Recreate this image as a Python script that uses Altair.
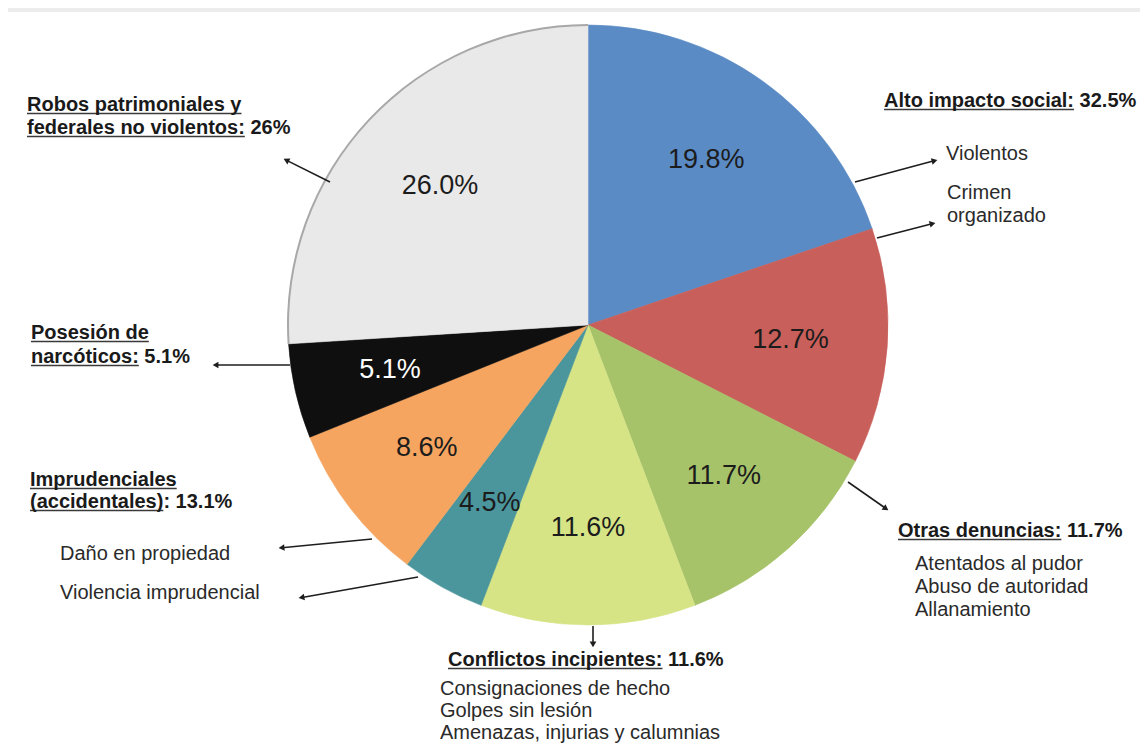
import math
import altair as alt
import pandas as pd

# ---------------- data ----------------
categories = [
    "Violentos",
    "Crimen organizado",
    "Otras denuncias",
    "Conflictos incipientes",
    "Violencia imprudencial",
    "Daño en propiedad",
    "Posesión de narcóticos",
    "Robos patrimoniales y federales no violentos",
]
shares = [19.8, 12.7, 11.7, 11.6, 4.5, 8.6, 5.1, 26.0]

bold_lines = [
    "Robos patrimoniales y",
    "federales no violentos: 26%",
    "Alto impacto social: 32.5%",
    "Posesión de",
    "narcóticos: 5.1%",
    "Imprudenciales",
    "(accidentales): 13.1%",
    "Otras denuncias: 11.7%",
    "Conflictos incipientes: 11.6%",
]
underlined_parts = [
    "Robos patrimoniales y",
    "federales no violentos:",
    "Alto impacto social:",
    "Posesión de",
    "narcóticos:",
    "Imprudenciales",
    "(accidentales)",
    "Otras denuncias:",
    "Conflictos incipientes:",
]
plain_lines = [
    "Violentos",
    "Crimen",
    "organizado",
    "Daño en propiedad",
    "Violencia imprudencial",
    "Atentados al pudor",
    "Abuso de autoridad",
    "Allanamiento",
    "Consignaciones de hecho",
    "Golpes sin lesión",
    "Amenazas, injurias y calumnias",
]

# ---------------- layout / styles ----------------
palette = ["#5b8bc5", "#c95f5a", "#a6c36a", "#d6e486", "#4b969c", "#f5a55f", "#0f0f0f", "#e9e9e9"]
label_ink = ["#1c1c1c", "#1c1c1c", "#1c1c1c", "#1c1c1c", "#1c1c1c", "#1c1c1c", "#ffffff", "#1c1c1c"]
ring_ink = ["transparent"] * 7 + ["#a8a8a8"]

CX, CY, R = 588, 325, 300          # pie centre / radius in page pixels
OX, OY = 8, 8                       # page margin
W, H = 1132, 735

bold_pos = [(27, 111), (27, 134), (884, 107), (31, 339), (31, 363),
            (30, 486), (30, 508), (898, 537), (448, 666)]
plain_pos = [(946, 160), (947, 199), (947, 222), (60, 560), (60, 599),
             (915, 570), (915, 593), (915, 616), (440, 695), (440, 717), (440, 739)]
arrows = [  # tail x, tail y, head x, head y
    (330, 182, 284, 159),
    (855, 182, 937, 160),
    (877, 238, 935, 223),
    (290, 365, 213, 365),
    (848, 482, 888, 510),
    (593, 626, 593, 647),
    (372, 539, 279, 548),
    (418, 577, 299, 598),
]
BOLD_SIZE = 20
PLAIN_SIZE = 20
FONT = "Liberation Sans"

BOLD_W = {' ': 278, '(': 333, ')': 333, ':': 333, '.': 278, '%': 889,
          'a': 556, 'b': 611, 'c': 556, 'd': 611, 'e': 556, 'f': 333, 'g': 611,
          'h': 611, 'i': 278, 'l': 278, 'm': 889, 'n': 611, 'o': 611, 'p': 611,
          'r': 389, 's': 556, 't': 333, 'u': 611, 'v': 556, 'y': 556, 'z': 500,
          'ó': 611, 'A': 722, 'C': 722, 'I': 278, 'O': 778, 'P': 667, 'R': 722}


def bold_width(s, size):
    return sum(BOLD_W.get(ch, 556) for ch in s) * size / 1000.0


# ---------------- tables ----------------
pie_df = pd.DataFrame({
    "cat": categories,
    "value": shares,
    "idx": list(range(len(categories))),
    "label": [f"{v:.1f}%" for v in shares],
    "ink": label_ink,
    "ring": ring_ink,
})

bold_df = pd.DataFrame({"t": bold_lines,
                        "x": [p[0] for p in bold_pos],
                        "y": [p[1] for p in bold_pos]})
plain_df = pd.DataFrame({"t": plain_lines,
                         "x": [p[0] for p in plain_pos],
                         "y": [p[1] for p in plain_pos]})
ul_df = pd.DataFrame({
    "x": [p[0] for p in bold_pos],
    "x1": [p[0] + bold_width(s, BOLD_SIZE) for s, p in zip(underlined_parts, bold_pos)],
    "y": [p[1] + 2.5 for p in bold_pos],
})

arr_rows, head_rows = [], []
for (x0, y0, x1, y1) in arrows:
    dx, dy = x1 - x0, y1 - y0
    L = math.hypot(dx, dy)
    ux, uy = dx / L, dy / L
    arr_rows.append({"x": x0, "y": y0, "x1": x1 - ux * 3, "y1": y1 - uy * 3})
    ang = math.degrees(math.atan2(dx, -dy)) % 360
    head_rows.append({"x": x1 - ux * 3.5, "y": y1 - uy * 3.5, "ang": ang})
arr_df = pd.DataFrame(arr_rows)
head_df = pd.DataFrame(head_rows)

panel_df = pd.DataFrame({"x": [6], "x1": [1148], "y": [12], "y1": [751]})

# ---------------- encodings ----------------
xs = alt.Scale(domain=[OX, OX + W], nice=False, zero=False)
ys = alt.Scale(domain=[OY, OY + H], nice=False, zero=False, reverse=True)


def X(f):
    return alt.X(f, type="quantitative", scale=xs, axis=None)


def Y(f):
    return alt.Y(f, type="quantitative", scale=ys, axis=None)


panel = alt.Chart(panel_df).mark_rect(color="white").encode(
    x=X("x"), x2="x1", y=Y("y"), y2="y1")

color_scale = alt.Scale(domain=categories, range=palette)

arcs = alt.Chart(pie_df).mark_arc(radius=R, strokeWidth=0.6).encode(
    theta=alt.Theta("value:Q", stack=True),
    order=alt.Order("idx:Q"),
    color=alt.Color("cat:N", scale=color_scale, legend=None),
    stroke=alt.Stroke("cat:N", scale=color_scale, legend=None),
    x=alt.value(CX - OX), y=alt.value(CY - OY),
)

ring = alt.Chart(pie_df).mark_arc(radius=R + 1, radius2=R - 1).encode(
    theta=alt.Theta("value:Q", stack=True),
    order=alt.Order("idx:Q"),
    fill=alt.Fill("ring:N", scale=None),
    x=alt.value(CX - OX), y=alt.value(CY - OY),
)

pct = alt.Chart(pie_df).mark_text(radius=203, fontSize=27, font=FONT,
                                  align="center", baseline="middle").encode(
    theta=alt.Theta("value:Q", stack=True),
    order=alt.Order("idx:Q"),
    text=alt.Text("label:N"),
    fill=alt.Fill("ink:N", scale=None),
    x=alt.value(CX - OX), y=alt.value(CY - OY),
)

arrow_lines = alt.Chart(arr_df).mark_rule(color="#1e1e1e", strokeWidth=1.6).encode(
    x=X("x"), y=Y("y"), x2="x1", y2="y1")

arrow_heads = alt.Chart(head_df).mark_point(shape="triangle", filled=True, size=45,
                                            color="#1e1e1e", opacity=1).encode(
    x=X("x"), y=Y("y"), angle=alt.Angle("ang:Q", scale=None))

underlines = alt.Chart(ul_df).mark_rule(color="#3a3a3a", strokeWidth=1.3).encode(
    x=X("x"), x2="x1", y=Y("y"))

bold_text = alt.Chart(bold_df).mark_text(fontSize=BOLD_SIZE, fontWeight="bold", font=FONT,
                                         align="left", baseline="alphabetic",
                                         color="#1a1a1a").encode(
    x=X("x"), y=Y("y"), text="t:N")

plain_text = alt.Chart(plain_df).mark_text(fontSize=PLAIN_SIZE, font=FONT,
                                           align="left", baseline="alphabetic",
                                           color="#2a2a2a").encode(
    x=X("x"), y=Y("y"), text="t:N")

chart = alt.layer(panel, arcs, ring, pct, arrow_lines, arrow_heads, underlines,
                  bold_text, plain_text).properties(
    width=W, height=H,
    autosize=alt.AutoSizeParams(type="none"),
    padding=0,
    background="#ececec",
).configure_view(strokeWidth=0)

chart.save("out.html", embed_options={"renderer": "svg", "actions": False})
